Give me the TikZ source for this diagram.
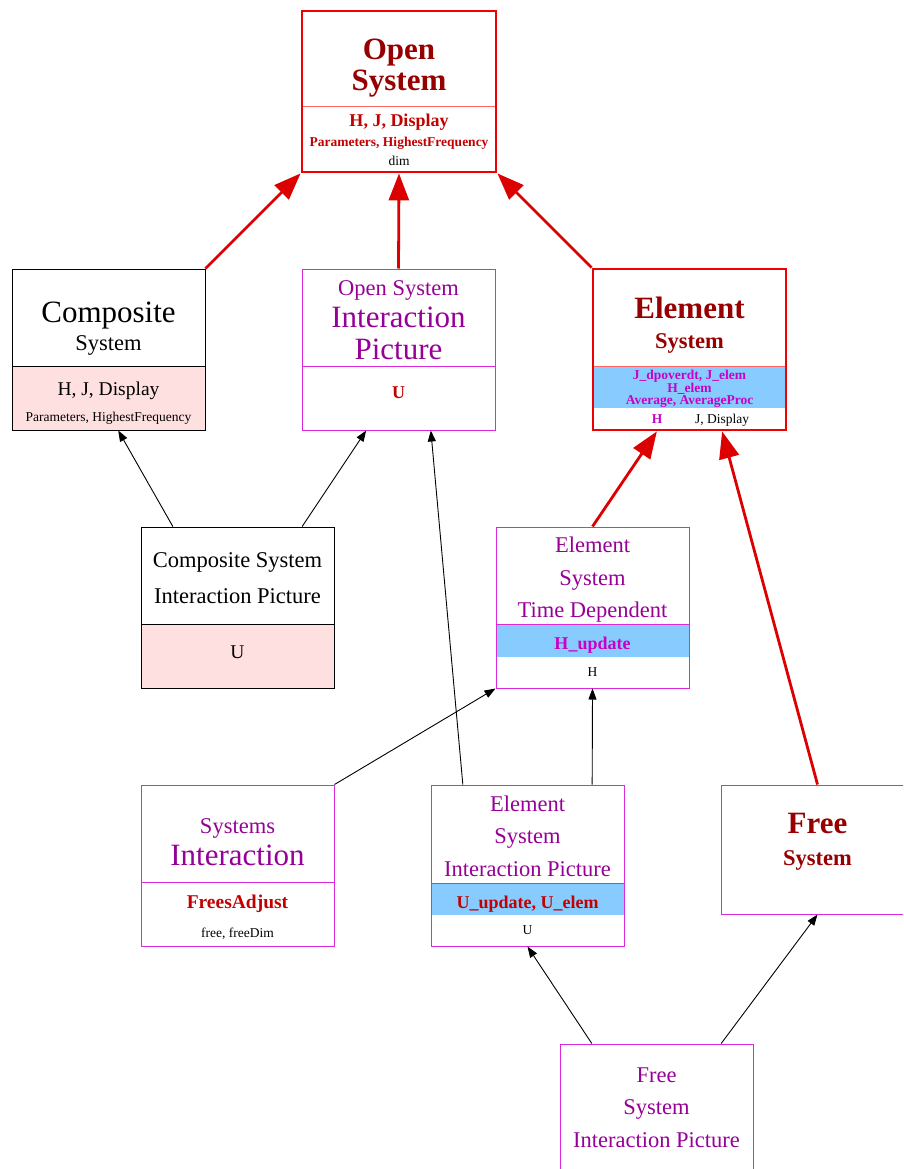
\documentclass[tikz,border=0pt]{standalone}
\usepackage{fontspec}
\setmainfont{Liberation Serif}
\usetikzlibrary{arrows.meta,calc}
\definecolor{bred}{RGB}{240,0,0}
\definecolor{ared}{RGB}{220,0,0}
\definecolor{dred}{RGB}{150,0,0}
\definecolor{mred}{RGB}{195,0,0}
\definecolor{lred}{RGB}{255,100,100}
\definecolor{purp}{RGB}{150,0,150}
\definecolor{magb}{RGB}{220,40,220}
\definecolor{magt}{RGB}{200,0,200}
\definecolor{bandblue}{RGB}{136,204,255}
\definecolor{pinkfill}{RGB}{255,224,224}
\newcommand\szA{\fontsize{31}{33}\selectfont}
\newcommand\szB{\fontsize{22.5}{24}\selectfont}
\newcommand\szC{\fontsize{19.5}{21}\selectfont}
\newcommand\szD{\fontsize{18}{20}\selectfont}
\newcommand\szE{\fontsize{13.5}{15}\selectfont}
\begin{document}
\begin{tikzpicture}[x=1pt,y=-1pt,
  boxbase/.style={rectangle,inner sep=0pt,minimum width=193pt,minimum height=161pt},
  redbox/.style={boxbase,draw=bred,line width=2.8pt},
  blkbox/.style={boxbase,draw=black,line width=0.9pt},
  magbox/.style={boxbase,draw=magb,line width=1pt},
  tx/.style={anchor=base,inner sep=0pt},
  redarrow/.style={draw=ared,line width=2.8pt,-{Triangle[length=27pt,width=20pt]}},
  blkarrow/.style={draw=black,line width=0.9pt,-{Triangle[length=11pt,width=8pt]}}
]
\useasboundingbox (0,0) rectangle (903,1169);
\clip (0,0) rectangle (903,1169);
% fills
\fill[pinkfill] (12,366) rectangle (205,430);
\fill[pinkfill] (141,624) rectangle (334,688);
\fill[bandblue] (593,367) rectangle (786,408);
\fill[bandblue] (496,624) rectangle (689,657);
\fill[bandblue] (431,883) rectangle (624,915);
% dividers
\draw[lred,line width=1pt] (302,107) -- (496,107);
\draw[black,line width=0.9pt] (12,366) -- (205,366);
\draw[magb,line width=1pt] (302,366) -- (495,366);
\draw[lred,line width=1pt] (593,366) -- (786,366);
\draw[black,line width=0.9pt] (141,624) -- (334,624);
\draw[magb,line width=1pt] (496,624) -- (689,624);
\draw[magb,line width=1pt] (141,882) -- (334,882);
\draw[magb,line width=1pt] (431,883) -- (624,883);
% boxes
\node[redbox,minimum width=194pt] (open) at (399,91.5) {};
\node[blkbox] (comp) at (108.5,349.5) {};
\node[magbox] (osip) at (398.5,349.5) {};
\node[redbox] (elem) at (689.5,349.5) {};
\node[blkbox] (csip) at (237.5,607.5) {};
\node[magbox] (etd) at (592.5,607.5) {};
\node[magbox] (si) at (237.5,865.5) {};
\node[magbox] (esip) at (527.5,865.5) {};
\node[magbox,minimum height=129pt] (free) at (817.5,849.5) {};
\node[magbox] (fsip) at (656.5,1124.5) {};
% texts: Open System
\node[tx,text=dred,font=\szA\bfseries] (o1) at (399,60) {Open};
\node[tx,text=dred,font=\szA\bfseries] (o2) at (399,91) {System};
\node[tx,text=mred,font=\szD\bfseries] (o3) at (399,127) {H, J, Display};
\node[tx,text=mred,font=\szE\bfseries] (o4) at (399,147) {Parameters, HighestFrequency};
\node[tx,text=black,font=\szE] (o5) at (399,166) {dim};
% Composite System
\node[tx,font=\szA] (c1) at (108.5,322) {Composite};
\node[tx,font=\szB] (c2) at (108.5,350) {System};
\node[tx,font=\szC] (c3) at (108.5,395) {H, J, Display};
\node[tx,font=\szE] (c4) at (108.5,421) {Parameters, HighestFrequency};
% Open System Interaction Picture
\node[tx,text=purp,font=\szB] (p1) at (398.5,295) {Open System};
\node[tx,text=purp,font=\szA] (p2) at (398.5,327) {Interaction};
\node[tx,text=purp,font=\szA] (p3) at (398.5,359) {Picture};
\node[tx,text=mred,font=\szD\bfseries] (p4) at (398.5,398) {U};
% Element System
\node[tx,text=dred,font=\szA\bfseries] (e1) at (689.5,318) {Element};
\node[tx,text=dred,font=\szB\bfseries] (e2) at (689.5,348) {System};
\node[tx,text=magt,font=\szE\bfseries] (e3) at (689.5,379) {J\_dpoverdt, J\_elem};
\node[tx,text=magt,font=\szE\bfseries] (e4) at (689.5,392) {H\_elem};
\node[tx,text=magt,font=\szE\bfseries] (e5) at (689.5,404) {Average, AverageProc};
\node[tx,text=magt,font=\szE\bfseries] (e6) at (657,423) {H};
\node[tx,text=black,font=\szE] (e7) at (722,423) {J, Display};
% Composite System Interaction Picture
\node[tx,font=\szB] (q1) at (237.5,567) {Composite System};
\node[tx,font=\szB] (q2) at (237.5,603) {Interaction Picture};
\node[tx,font=\szC] (q3) at (237.5,658) {U};
% Element System Time Dependent
\node[tx,text=purp,font=\szB] (d1) at (592.5,552) {Element};
\node[tx,text=purp,font=\szB] (d2) at (592.5,585) {System};
\node[tx,text=purp,font=\szB] (d3) at (592.5,617) {Time Dependent};
\node[tx,text=magt,font=\szD\bfseries] (d4) at (592.5,649) {H\_update};
\node[tx,text=black,font=\szE] (d5) at (592.5,676) {H};
% Systems Interaction
\node[tx,text=purp,font=\szB] (s1) at (237.5,833) {Systems};
\node[tx,text=purp,font=\szA] (s2) at (237.5,865) {Interaction};
\node[tx,text=mred,font=\szC\bfseries] (s3) at (237.5,908) {FreesAdjust};
\node[tx,text=black,font=\szE] (s4) at (237.5,937) {free, freeDim};
% Element System Interaction Picture
\node[tx,text=purp,font=\szB] (i1) at (527.5,811) {Element};
\node[tx,text=purp,font=\szB] (i2) at (527.5,843) {System};
\node[tx,text=purp,font=\szB] (i3) at (527.5,876) {Interaction Picture};
\node[tx,text=mred,font=\szD\bfseries] (i4) at (527.5,908) {U\_update, U\_elem};
\node[tx,text=black,font=\szE] (i5) at (527.5,934) {U};
% Free System
\node[tx,text=dred,font=\szA\bfseries] (f1) at (817.5,833) {Free};
\node[tx,text=dred,font=\szB\bfseries] (f2) at (817.5,865) {System};
% Free System Interaction Picture
\node[tx,text=purp,font=\szB] (g1) at (656.5,1082) {Free};
\node[tx,text=purp,font=\szB] (g2) at (656.5,1114) {System};
\node[tx,text=purp,font=\szB] (g3) at (656.5,1147) {Interaction Picture};
% connectors
\draw[redarrow] (comp.north east) -- (open.south west);
\draw[redarrow] (osip.north) -- (open.south);
\draw[redarrow] (elem.north west) -- (open.south east);
\draw[blkarrow] ($(csip.north west)!1/6!(csip.north east)$) -- ($(comp.south west)!0.55!(comp.south east)$);
\draw[blkarrow] ($(csip.north west)!5/6!(csip.north east)$) -- ($(osip.south west)!1/3!(osip.south east)$);
\draw[blkarrow] ($(esip.north west)!1/6!(esip.north east)$) -- ($(osip.south west)!2/3!(osip.south east)$);
\draw[blkarrow] (si.north east) -- (etd.south west);
\draw[blkarrow] ($(esip.north west)!5/6!(esip.north east)$) -- (etd.south);
\draw[redarrow] (etd.north) -- ($(elem.south west)!1/3!(elem.south east)$);
\draw[redarrow] (free.north) -- ($(elem.south west)!2/3!(elem.south east)$);
\draw[blkarrow] ($(fsip.north west)!1/6!(fsip.north east)$) -- (esip.south);
\draw[blkarrow] ($(fsip.north west)!5/6!(fsip.north east)$) -- (free.south);
\end{tikzpicture}
\end{document}
